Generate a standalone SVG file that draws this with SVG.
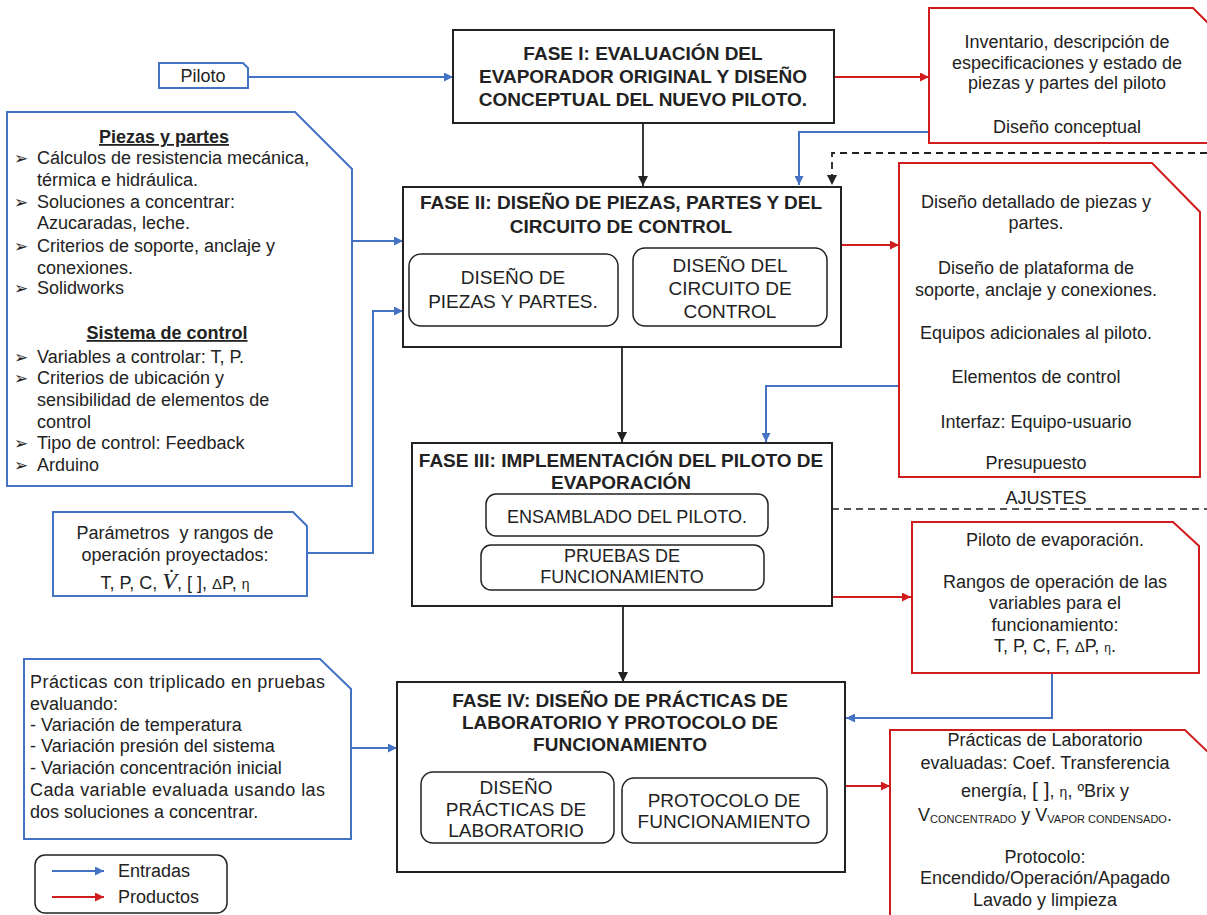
<svg xmlns="http://www.w3.org/2000/svg" width="1207" height="915" viewBox="0 0 1207 915">
<defs>
<style>
text{font-family:"Liberation Sans",Arial,sans-serif;fill:#222;}
.t{font-size:18px;}
.c{text-anchor:middle;}
.b{font-weight:bold;font-size:19px;}
.s{font-size:19px;}
.blue{fill:#fff;stroke:#4472C4;stroke-width:2;}
.red{fill:#fff;stroke:#D01C1C;stroke-width:2;}
.phase{fill:#fff;stroke:#222;stroke-width:2;}
.sub{fill:#fff;stroke:#222;stroke-width:1.5;}
.lb{fill:none;stroke:#4472C4;stroke-width:2;}
.lr{fill:none;stroke:#D01C1C;stroke-width:2;}
.lk{fill:none;stroke:#222;stroke-width:1.8;}
.dash{fill:none;stroke:#222;stroke-width:1.8;stroke-dasharray:7 5;}
.dashg{fill:none;stroke:#555;stroke-width:2;stroke-dasharray:7 5;}
.bul{font-family:"DejaVu Sans",sans-serif;font-size:17px;font-weight:bold;}
</style>
<marker id="ab" viewBox="0 0 10 10" refX="10" refY="5" markerWidth="10" markerHeight="9" markerUnits="userSpaceOnUse" orient="auto"><path d="M0,0 L10,5 L0,10 z" fill="#4472C4"/></marker>
<marker id="ar" viewBox="0 0 10 10" refX="10" refY="5" markerWidth="10" markerHeight="9" markerUnits="userSpaceOnUse" orient="auto"><path d="M0,0 L10,5 L0,10 z" fill="#D01C1C"/></marker>
<marker id="ak" viewBox="0 0 10 10" refX="10" refY="5" markerWidth="10" markerHeight="10" markerUnits="userSpaceOnUse" orient="auto"><path d="M0,0 L10,5 L0,10 z" fill="#222"/></marker>
</defs>
<rect width="1207" height="915" fill="#fff"/>

<g id="connectors">
<path class="lb" d="M248,77 H453" marker-end="url(#ab)"/>
<path class="lr" d="M834,77 H929" marker-end="url(#ar)"/>
<path class="lb" d="M929,132 H799 V185" marker-end="url(#ab)"/>
<path class="dash" d="M1207,153 H832 V185" marker-end="url(#ak)"/>
<path class="lk" d="M643,123 V186" marker-end="url(#ak)"/>
<path class="lb" d="M352,241 H403" marker-end="url(#ab)"/>
<path class="lb" d="M307,553 H373 V311 H403" marker-end="url(#ab)"/>
<path class="lr" d="M841,245 H899" marker-end="url(#ar)"/>
<path class="lb" d="M899,386 H766 V442" marker-end="url(#ab)"/>
<path class="lk" d="M622,347 V442" marker-end="url(#ak)"/>
<path class="dashg" d="M832,509 H1207"/>
<path class="lr" d="M832,597 H911" marker-end="url(#ar)"/>
<path class="lb" d="M1052,673 V718 H846" marker-end="url(#ab)"/>
<path class="lk" d="M623,606 V682" marker-end="url(#ak)"/>
<path class="lb" d="M351,748 H397" marker-end="url(#ab)"/>
<path class="lr" d="M845,786 H890" marker-end="url(#ar)"/>
</g>

<g id="piloto">
<path class="blue" d="M159,63 H243 L248,68 V88 H159 Z"/>
<text class="t c" x="203" y="82">Piloto</text>
</g>

<g id="fase1">
<rect class="phase" x="453" y="30" width="381" height="93"/>
<text class="b c" x="643" y="60">FASE I: EVALUACIÓN DEL</text>
<text class="b c" x="643" y="83">EVAPORADOR ORIGINAL Y DISEÑO</text>
<text class="b c" x="643" y="106">CONCEPTUAL DEL NUEVO PILOTO.</text>
</g>

<g id="inventario">
<path class="red" d="M929,8 H1193 L1208,23 V143 H929 Z"/>
<text class="t c" x="1067" y="48">Inventario, descripción de</text>
<text class="t c" x="1067" y="69">especificaciones y estado de</text>
<text class="t c" x="1067" y="89">piezas y partes del piloto</text>
<text class="t c" x="1067" y="133">Diseño conceptual</text>
</g>

<g id="entradas-fase2">
<path class="blue" d="M7,112 H295 L352,169 V486 H7 Z"/>
<text class="b c" x="164" y="143" style="font-size:18px;text-decoration:underline">Piezas y partes</text>
<text class="bul" x="14" y="164">➢</text><text class="t" x="37" y="164">Cálculos de resistencia mecánica,</text>
<text class="t" x="37" y="186">térmica e hidráulica.</text>
<text class="bul" x="14" y="208">➢</text><text class="t" x="37" y="208">Soluciones a concentrar:</text>
<text class="t" x="37" y="229">Azucaradas, leche.</text>
<text class="bul" x="14" y="252">➢</text><text class="t" x="37" y="252">Criterios de soporte, anclaje y</text>
<text class="t" x="37" y="274">conexiones.</text>
<text class="bul" x="14" y="294">➢</text><text class="t" x="37" y="294">Solidworks</text>
<text class="b c" x="167" y="339" style="font-size:18px;text-decoration:underline">Sistema de control</text>
<text class="bul" x="14" y="363">➢</text><text class="t" x="37" y="363">Variables a controlar: T, P.</text>
<text class="bul" x="14" y="384">➢</text><text class="t" x="37" y="384">Criterios de ubicación y</text>
<text class="t" x="37" y="406">sensibilidad de elementos de</text>
<text class="t" x="37" y="428">control</text>
<text class="bul" x="14" y="449">➢</text><text class="t" x="37" y="449">Tipo de control: Feedback</text>
<text class="bul" x="14" y="471">➢</text><text class="t" x="37" y="471">Arduino</text>
</g>

<g id="parametros">
<path class="blue" d="M53,512 H293 L307,526 V596 H53 Z"/>
<text class="t c" x="175" y="539">Parámetros&#160; y rangos de</text>
<text class="t c" x="175" y="561">operación proyectados:</text>
<text class="t c" x="175" y="589">T, P, C, <tspan style="font-family:'Liberation Serif',serif;font-style:italic;font-size:24px">V̇</tspan>, [ ], <tspan style="font-size:15px">Δ</tspan>P, <tspan style="font-size:14px">η</tspan></text>
</g>

<g id="fase2">
<rect class="phase" x="403" y="187" width="438" height="160"/>
<text class="b c" x="621" y="209">FASE II: DISEÑO DE PIEZAS, PARTES Y DEL</text>
<text class="b c" x="621" y="233">CIRCUITO DE CONTROL</text>
<rect class="sub" x="409" y="254" width="209" height="72" rx="12"/>
<text class="s c" x="513" y="284">DISEÑO DE</text>
<text class="s c" x="513" y="308">PIEZAS Y PARTES.</text>
<rect class="sub" x="633" y="248" width="194" height="78" rx="12"/>
<text class="s c" x="730" y="272">DISEÑO DEL</text>
<text class="s c" x="730" y="295">CIRCUITO DE</text>
<text class="s c" x="730" y="318">CONTROL</text>
</g>

<g id="productos-fase2">
<path class="red" d="M899,163 H1152 L1200,212 V477 H899 Z"/>
<text class="t c" x="1036" y="208">Diseño detallado de piezas y</text>
<text class="t c" x="1036" y="229">partes.</text>
<text class="t c" x="1036" y="274">Diseño de plataforma de</text>
<text class="t c" x="1036" y="296">soporte, anclaje y conexiones.</text>
<text class="t c" x="1036" y="339">Equipos adicionales al piloto.</text>
<text class="t c" x="1036" y="383">Elementos de control</text>
<text class="t c" x="1036" y="428">Interfaz: Equipo-usuario</text>
<text class="t c" x="1036" y="469">Presupuesto</text>
</g>

<g id="fase3">
<rect class="phase" x="412" y="443" width="420" height="163"/>
<text class="b c" x="621" y="467">FASE III: IMPLEMENTACIÓN DEL PILOTO DE</text>
<text class="b c" x="621" y="489">EVAPORACIÓN</text>
<rect class="sub" x="486" y="494" width="282" height="42" rx="10"/>
<text class="t c" x="627" y="523">ENSAMBLADO DEL PILOTO.</text>
<rect class="sub" x="481" y="545" width="283" height="45" rx="10"/>
<text class="t c" x="622" y="562">PRUEBAS DE</text>
<text class="t c" x="622" y="583">FUNCIONAMIENTO</text>
</g>

<g id="ajustes">
<text class="t c" x="1046" y="504">AJUSTES</text>
</g>

<g id="productos-fase3">
<path class="red" d="M912,522 H1173 L1199,546 V673 H912 Z"/>
<text class="t c" x="1055" y="546">Piloto de evaporación.</text>
<text class="t c" x="1055" y="588">Rangos de operación de las</text>
<text class="t c" x="1055" y="609">variables para el</text>
<text class="t c" x="1055" y="631">funcionamiento:</text>
<text class="t c" x="1055" y="652">T, P, C, F, <tspan style="font-size:15px">Δ</tspan>P, <tspan style="font-size:12px">η</tspan>.</text>
</g>

<g id="entradas-fase4">
<path class="blue" d="M24,659 H320 L351,689 V839 H24 Z"/>
<text class="t" x="30" y="688" textLength="295" lengthAdjust="spacing">Prácticas con triplicado en pruebas</text>
<text class="t" x="30" y="710">evaluando:</text>
<text class="t" x="30" y="731">- Variación de temperatura</text>
<text class="t" x="30" y="752">- Variación presión del sistema</text>
<text class="t" x="30" y="774">- Variación concentración inicial</text>
<text class="t" x="30" y="796" textLength="295" lengthAdjust="spacing">Cada variable evaluada usando las</text>
<text class="t" x="30" y="818">dos soluciones a concentrar.</text>
</g>

<g id="fase4">
<rect class="phase" x="397" y="682" width="448" height="190"/>
<text class="b c" x="620" y="707">FASE IV: DISEÑO DE PRÁCTICAS DE</text>
<text class="b c" x="620" y="729">LABORATORIO Y PROTOCOLO DE</text>
<text class="b c" x="620" y="751">FUNCIONAMIENTO</text>
<rect class="sub" x="421" y="772" width="193" height="71" rx="12"/>
<text class="s c" x="516" y="794">DISEÑO</text>
<text class="s c" x="516" y="816">PRÁCTICAS DE</text>
<text class="s c" x="516" y="837">LABORATORIO</text>
<rect class="sub" x="622" y="778" width="205" height="65" rx="12"/>
<text class="s c" x="724" y="807">PROTOCOLO DE</text>
<text class="s c" x="724" y="828">FUNCIONAMIENTO</text>
</g>

<g id="productos-fase4">
<path class="red" d="M890,730 H1185 L1208,752 V916 H890 Z"/>
<text class="t c" x="1045" y="746">Prácticas de Laboratorio</text>
<text class="t c" x="1045" y="769">evaluadas: Coef. Transferencia</text>
<text class="t c" x="1045" y="797">energía, <tspan style="font-size:21px">[ ]</tspan>, <tspan style="font-size:14px">η</tspan>, ºBrix y</text>
<text class="t c" x="1045" y="821">V<tspan style="font-size:11px" dy="2">CONCENTRADO</tspan><tspan dy="-2"> y V</tspan><tspan style="font-size:11px" dy="2">VAPOR CONDENSADO</tspan><tspan dy="-2">.</tspan></text>
<text class="t c" x="1045" y="863">Protocolo:</text>
<text class="t c" x="1045" y="884">Encendido/Operación/Apagado</text>
<text class="t c" x="1045" y="906">Lavado y limpieza</text>
</g>

<g id="leyenda">
<rect x="35" y="855" width="192" height="58" rx="10" fill="#fff" stroke="#222" stroke-width="1.5"/>
<path class="lb" d="M52,871 H104" marker-end="url(#ab)"/>
<path class="lr" d="M52,897 H104" marker-end="url(#ar)"/>
<text class="t" x="118" y="877">Entradas</text>
<text class="t" x="118" y="903">Productos</text>
</g>
</svg>
